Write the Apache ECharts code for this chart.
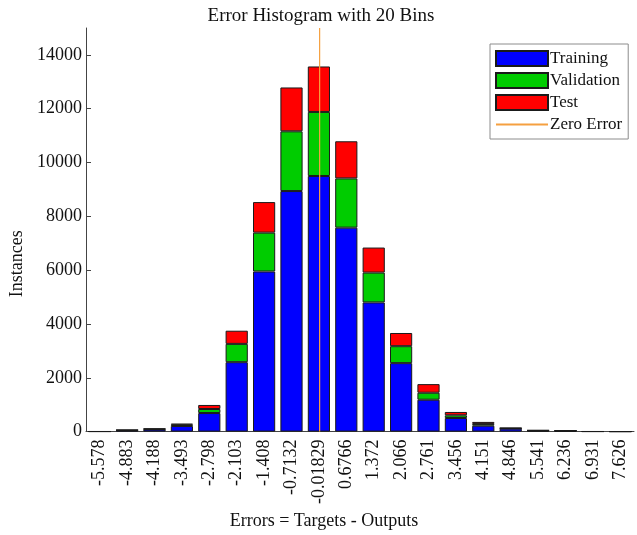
<!DOCTYPE html>
<html>
<head>
<meta charset="utf-8">
<script src="https://cdn.jsdelivr.net/npm/echarts@6/dist/echarts.min.js"></script>
<style>
  html, body { margin: 0; padding: 0; background: #fff; }
  #chart { width: 637px; height: 535px; }
</style>
</head>
<body>
<div id="chart"></div>
<script>
// Bin centres of the error histogram (20 bins)
const binCenters = ['-5.578', '-4.883', '-4.188', '-3.493', '-2.798', '-2.103', '-1.408', '-0.7132', '-0.01829', '0.6766',
  '1.372', '2.066', '2.761', '3.456', '4.151', '4.846', '5.541', '6.236', '6.931', '7.626'];

// Instances per bin for each data split
const training   = [3, 45, 80, 210, 690, 2580, 5950, 8940, 9500, 7580, 4800, 2545, 1185, 505, 220, 110, 35, 28, 3, 2];
const validation = [1, 8, 15, 45, 150, 680, 1445, 2220, 2380, 1830, 1110, 630, 260, 100, 65, 15, 8, 6, 1, 0];
const test       = [1, 7, 15, 40, 150, 490, 1135, 1630, 1690, 1380, 930, 490, 320, 125, 75, 12, 7, 6, 1, 1];

// Y axis ticks
const yTicks = [0, 2000, 4000, 6000, 8000, 10000, 12000, 14000];
const yMax = 15000;

// Zero error marker
const zeroError = 0;

const serif = "'Liberation Serif', 'Times New Roman', serif";

// Continuous error scale spanning the outer edges of the first and last bins
const firstC = parseFloat(binCenters[0]);
const lastC = parseFloat(binCenters[binCenters.length - 1]);
const halfBin = (lastC - firstC) / (binCenters.length - 1) / 2;

const chart = echarts.init(document.getElementById('chart'), null, { renderer: 'canvas' });

const barStyle = (color) => ({ color: color, borderColor: '#1a1a1a', borderWidth: 1 });

chart.setOption({
  animation: false,
  backgroundColor: '#ffffff',
  title: {
    text: 'Error Histogram with 20 Bins',
    left: 316,
    top: 2,
    textAlign: 'center',
    textStyle: { fontFamily: serif, fontSize: 19, fontWeight: 'normal', color: '#111' }
  },
  legend: {
    orient: 'vertical',
    left: 490,
    top: 44,
    itemWidth: 52,
    itemHeight: 15,
    itemGap: 5,
    icon: 'rect',
    padding: [6, 6, 6, 5],
    borderColor: '#8c8c8c',
    borderWidth: 1,
    backgroundColor: '#fff',
    textStyle: { fontFamily: serif, fontSize: 17, color: '#111', padding: [0, 0, 0, -3] },
    data: [
      'Training', 'Validation', 'Test',
      { name: 'Zero Error', icon: 'inherit', itemStyle: { opacity: 0 } }
    ]
  },
  grid: { left: 85, right: 3, top: 28, bottom: 102, containLabel: false },
  xAxis: [
    {
      type: 'category',
      data: binCenters,
      boundaryGap: true,
      axisLine: { onZero: false, lineStyle: { color: '#444', width: 1 } },
      axisTick: { inside: true, alignWithLabel: true, length: 5, lineStyle: { color: '#444' } },
      axisLabel: {
        rotate: 90, interval: 0, margin: 8,
        fontFamily: serif, fontSize: 18, color: '#111'
      },
      name: 'Errors = Targets - Outputs',
      nameLocation: 'middle',
      nameGap: 80,
      nameTextStyle: { fontFamily: serif, fontSize: 18, color: '#111', padding: [0, 72, 0, 0] }
    },
    {
      type: 'value',
      min: firstC - halfBin,
      max: lastC + halfBin,
      show: false
    }
  ],
  yAxis: {
    type: 'value',
    min: 0,
    max: yMax,
    interval: 2000,
    name: 'Instances',
    nameLocation: 'middle',
    nameGap: 60,
    nameTextStyle: { fontFamily: serif, fontSize: 18, color: '#111', padding: [0, 68, 0, 0] },
    axisLine: { show: true, onZero: false, lineStyle: { color: '#444', width: 1 } },
    axisTick: { show: true, inside: true, length: 5, lineStyle: { color: '#444' }, customValues: yTicks },
    axisLabel: {
      fontFamily: serif, fontSize: 18, color: '#111', margin: 4, customValues: yTicks,
      formatter: (v) => String(v)
    },
    splitLine: { show: false }
  },
  series: [
    { name: 'Training', type: 'bar', stack: 'all', barWidth: '81%', data: training, itemStyle: barStyle('#0000ff') },
    { name: 'Validation', type: 'bar', stack: 'all', barWidth: '81%', data: validation, itemStyle: barStyle('#00cc00') },
    { name: 'Test', type: 'bar', stack: 'all', barWidth: '81%', data: test, itemStyle: barStyle('#ff0000') },
    {
      name: 'Zero Error', type: 'line', xAxisIndex: 1, symbol: 'none', z: 5,
      data: [[zeroError, 0], [zeroError, yMax]],
      lineStyle: { color: '#f5a040', width: 1.2 },
      itemStyle: { color: '#f5a040' }
    }
  ]
});
</script>
</body>
</html>
